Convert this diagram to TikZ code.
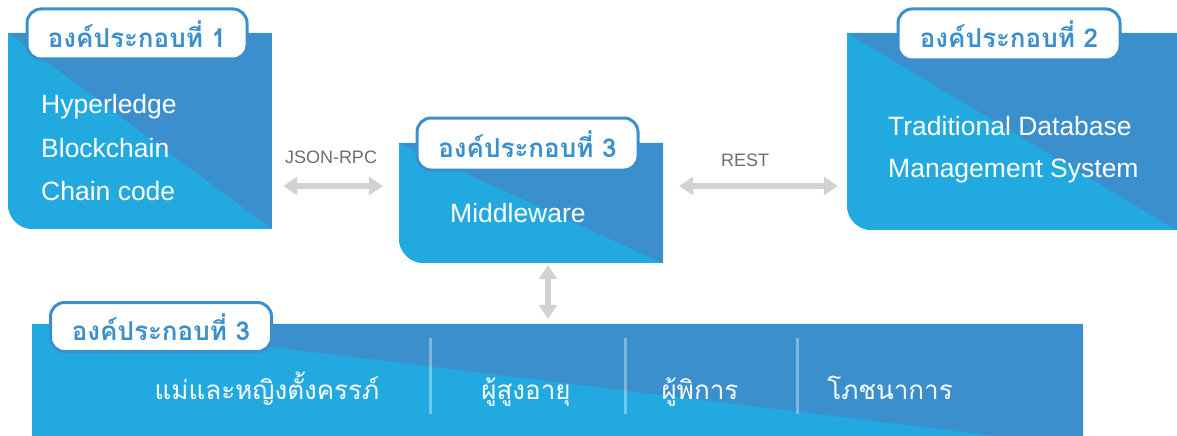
\documentclass[tikz,border=0pt]{standalone}
\usepackage{fontspec}
\setmainfont{Liberation Sans}
\newfontfamily\thaifont[Script=Thai]{Loma}
\usetikzlibrary{arrows.meta}

\definecolor{skyfill}{HTML}{22A9E0}
\definecolor{deepfill}{HTML}{3B8FCD}
\definecolor{tagline}{HTML}{3B8FCD}
\definecolor{linkgray}{HTML}{D1D2D4}
\definecolor{notegray}{HTML}{6D6E70}

% two-tone panel: light lower-left half, darker upper-right half,
% only the bottom-left corner rounded
\newcommand{\twotonepanel}[1]{%
  \begin{scope}
    \clip (#1.north west) -- (#1.north east) -- (#1.south east)
      [rounded corners=25pt] -- (#1.south west) [sharp corners] -- cycle;
    \fill[skyfill] (#1.north west) rectangle (#1.south east);
    \fill[deepfill] (#1.north west) -- (#1.north east) -- (#1.south east) -- cycle;
  \end{scope}}

\tikzset{
  frame/.style={inner sep=0pt, draw=none},
  tag/.style={draw=tagline, line width=3pt, fill=white, rounded corners=14pt,
    inner sep=0pt, text=tagline,
    font=\thaifont\bfseries\fontsize{26}{30}\selectfont},
  body/.style={text=white, inner sep=0pt, anchor=base west,
    font=\fontsize{26.5}{30}\selectfont},
  item/.style={text=white, inner sep=0pt, anchor=base,
    font=\thaifont\fontsize{26}{30}\selectfont},
  note/.style={text=notegray, inner sep=0pt, font=\fontsize{18}{20}\selectfont},
  biarrow/.style={linkgray, line width=6pt,
    {Triangle[length=14pt,width=18pt]}-{Triangle[length=14pt,width=18pt]}},
  divider/.style={white, opacity=0.35, line width=3pt}
}

\begin{document}
\begin{tikzpicture}[x=1pt,y=-1pt]
\useasboundingbox (0,0) rectangle (1177,436);

% panel frames
\node[frame, minimum width=264pt, minimum height=196pt] (b1) at (140,131) {};
\node[frame, minimum width=264pt, minimum height=120pt] (b3) at (531,203) {};
\node[frame, minimum width=330pt, minimum height=197pt] (b2) at (1012,131.5) {};
\node[frame, minimum width=1051pt, minimum height=112pt] (band) at (557.5,380) {};

\twotonepanel{b1}
\twotonepanel{b3}
\twotonepanel{b2}

% wide band along the bottom
\fill[skyfill] (band.north west) rectangle (band.south east);
\fill[deepfill] ([xshift=51pt]band.north west) -- (band.north east)
  -- (band.south east) -- ([xshift=-86pt]band.south east) -- cycle;

% dividers in the band
\draw[divider] (430,338) -- (430,414);
\draw[divider] (625,338) -- (625,414);
\draw[divider] (797,338) -- (797,414);

% tags
\node[tag, minimum width=220pt, minimum height=50pt] (t1) at (137,34) {องค์ประกอบที่ 1};
\node[tag, minimum width=221pt, minimum height=52pt] (t3) at (527.5,144) {องค์ประกอบที่ 3};
\node[tag, minimum width=222pt, minimum height=51pt] (t2) at (1009,34.5) {องค์ประกอบที่ 2};
\node[tag, minimum width=221pt, minimum height=49pt] (t4) at (161,327) {องค์ประกอบที่ 3};

% panel contents
\node[body] (h1) at (41,113) {Hyperledge};
\node[body] (h2) at (41,157) {Blockchain};
\node[body] (h3) at (41,200) {Chain code};
\node[body] (m1) at (450,222) {Middleware};
\node[body] (d1) at (888,135) {Traditional Database};
\node[body] (d2) at (888,177) {Management System};

\node[item] (g1) at (267,399) {แม่และหญิงตั้งครรภ์};
\node[item] (g2) at (526,399) {ผู้สูงอายุ};
\node[item] (g3) at (700,399) {ผู้พิการ};
\node[item] (g4) at (890,399) {โภชนาการ};

% links
\coordinate (lane) at (0,186);
\coordinate (drop) at (548,0);
\draw[biarrow, shorten <=11pt, shorten >=16pt] (b1.east |- lane) -- (b3.west |- lane);
\draw[biarrow, shorten <=16pt, shorten >=9pt] (b3.east |- lane) -- (b2.west |- lane);
\draw[biarrow, shorten <=2pt, shorten >=5pt] (b3.south -| drop) -- (band.north -| drop);

\node[note] (n1) at (331,157) {JSON-RPC};
\node[note] (n2) at (745,160) {REST};
\end{tikzpicture}
\end{document}
